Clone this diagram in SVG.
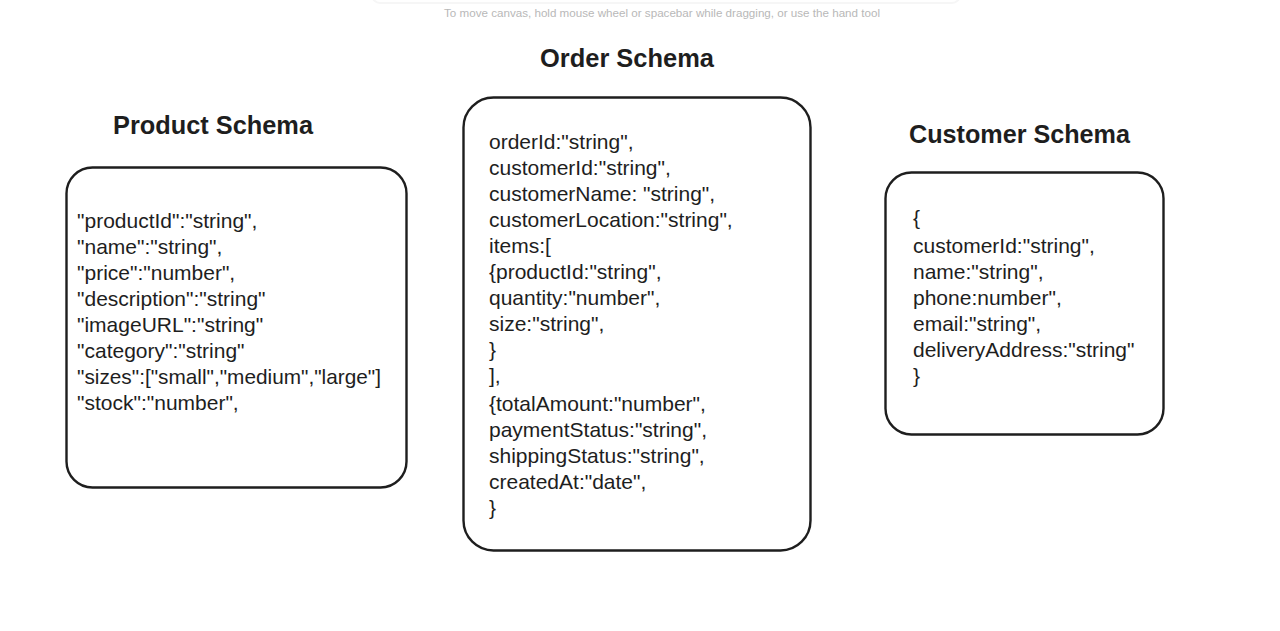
<svg xmlns="http://www.w3.org/2000/svg" width="1280" height="631" viewBox="0 0 1280 631">
<style>
.box{fill:#ffffff;stroke:#1e1e1e;stroke-width:2.4}
.title{font-family:"Liberation Sans","Noto Sans",sans-serif;font-weight:900;fill:#1e1e1e;font-size:25.5px}
.body{font-family:"Liberation Sans","Noto Sans",sans-serif;fill:#1e1e1e;font-size:21px}
.hint{font-family:"Liberation Sans","Noto Sans",sans-serif;fill:#b8b8b8;font-size:11px}
</style>
<rect x="0" y="0" width="1280" height="631" fill="#ffffff"/>
<rect x="372" y="-20" width="588" height="23" rx="8" fill="#ffffff" stroke="#f6f6f6" stroke-width="2"/>
<text class="hint" x="662" y="17" text-anchor="middle" textLength="436" lengthAdjust="spacingAndGlyphs">To move canvas, hold mouse wheel or spacebar while dragging, or use the hand tool</text>

<g id="connectors"></g>

<g id="product-schema">
<text class="title" x="113" y="134" textLength="200" lengthAdjust="spacingAndGlyphs">Product Schema</text>
<rect class="box" x="66.5" y="167.5" width="340" height="320" rx="26"/>
<text class="body" x="77" y="228">"productId":"string",</text>
<text class="body" x="77" y="254">"name":"string",</text>
<text class="body" x="77" y="280">"price":"number",</text>
<text class="body" x="77" y="306">"description":"string"</text>
<text class="body" x="77" y="332">"imageURL":"string"</text>
<text class="body" x="77" y="358">"category":"string"</text>
<text class="body" x="77" y="384" textLength="304" lengthAdjust="spacingAndGlyphs">"sizes":["small","medium","large"]</text>
<text class="body" x="77" y="410">"stock":"number",</text>
</g>

<g id="order-schema">
<text class="title" x="540" y="67" textLength="174" lengthAdjust="spacingAndGlyphs">Order Schema</text>
<rect class="box" x="463.5" y="97.5" width="347" height="453" rx="30"/>
<text class="body" x="489" y="149">orderId:"string",</text>
<text class="body" x="489" y="175">customerId:"string",</text>
<text class="body" x="489" y="201">customerName: "string",</text>
<text class="body" x="489" y="227">customerLocation:"string",</text>
<text class="body" x="489" y="253">items:[</text>
<text class="body" x="489" y="279">{productId:"string",</text>
<text class="body" x="489" y="305">quantity:"number",</text>
<text class="body" x="489" y="331">size:"string",</text>
<text class="body" x="489" y="357">}</text>
<text class="body" x="489" y="383">],</text>
<text class="body" x="489" y="411">{totalAmount:"number",</text>
<text class="body" x="489" y="437">paymentStatus:"string",</text>
<text class="body" x="489" y="463">shippingStatus:"string",</text>
<text class="body" x="489" y="489">createdAt:"date",</text>
<text class="body" x="489" y="515">}</text>
</g>

<g id="customer-schema">
<text class="title" x="909" y="143" textLength="221" lengthAdjust="spacingAndGlyphs">Customer Schema</text>
<rect class="box" x="885.5" y="172.5" width="278" height="262" rx="26"/>
<text class="body" x="913" y="225">{</text>
<text class="body" x="913" y="253">customerId:"string",</text>
<text class="body" x="913" y="279">name:"string",</text>
<text class="body" x="913" y="305">phone:number",</text>
<text class="body" x="913" y="331">email:"string",</text>
<text class="body" x="913" y="357">deliveryAddress:"string"</text>
<text class="body" x="913" y="383">}</text>
</g>
</svg>
